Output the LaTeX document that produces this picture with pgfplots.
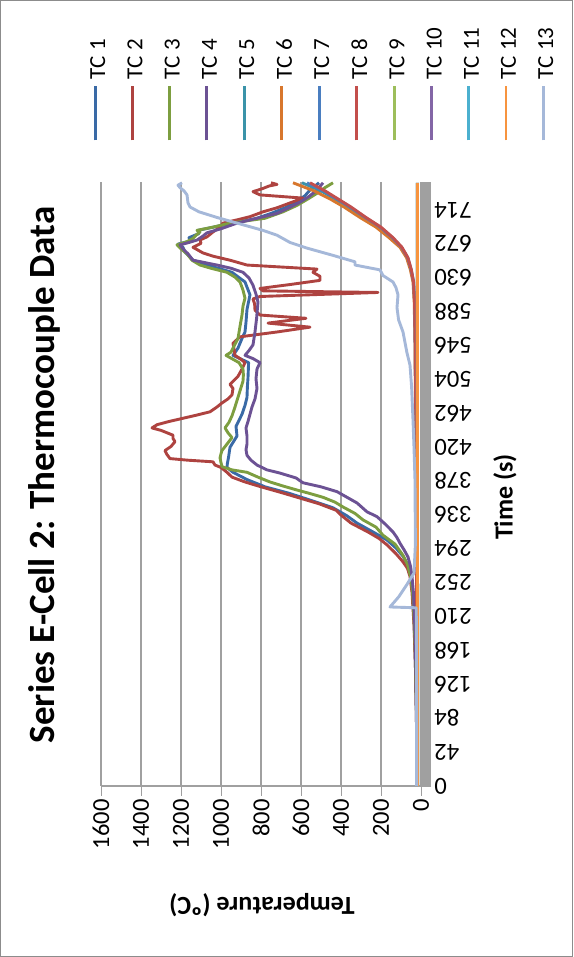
\documentclass[border=0pt]{standalone}
\usepackage{pgfplots}
\pgfplotsset{compat=1.18}
\usepackage{fontspec}
\setmainfont{Carlito}

\definecolor{tcA}{HTML}{3A6AA6}
\definecolor{tcB}{HTML}{AE4340}
\definecolor{tcC}{HTML}{7D9E40}
\definecolor{tcD}{HTML}{6C5294}
\definecolor{tcE}{HTML}{3B93A9}
\definecolor{tcF}{HTML}{D8772D}
\definecolor{tcG}{HTML}{4A7EC0}
\definecolor{tcH}{HTML}{C34F4C}
\definecolor{tcI}{HTML}{9DBE5B}
\definecolor{tcJ}{HTML}{8366A6}
\definecolor{tcK}{HTML}{4BB0CF}
\definecolor{tcL}{HTML}{F7943F}
\definecolor{tcM}{HTML}{A5B8D9}
\definecolor{gridc}{HTML}{A0A0A0}
\definecolor{framec}{HTML}{8C8C8C}

\begin{document}
\begin{tikzpicture}[rotate=90, transform shape]
\path[use as bounding box] (0pt,0pt) rectangle (957pt,573pt);
\draw[framec, line width=0.8pt] (0.5pt,0.5pt) rectangle (956.5pt,572.5pt);
\begin{axis}[
  at={(171pt,152pt)}, anchor=south west,
  scale only axis, width=604pt, height=320pt,
  xmin=0, xmax=749, ymin=0, ymax=1600,
  axis x line*=bottom, axis y line*=left,
  axis line style={gridc, line width=1.2pt, -},
  xtick={0,42,...,714}, minor xtick={0,1,...,749},
  ytick={0,200,...,1600},
  tick align=outside,
  major tick length=10pt, minor tick length=10pt,
  every tick/.style={gridc, line width=0.5pt},
  ymajorgrids,
  major grid style={gridc, line width=1.5pt},
  /pgf/number format/assume math mode=true,
  /pgf/number format/1000 sep={},
  xticklabel style={rotate=90, anchor=east, font=\fontsize{24.5}{24.5}\selectfont},
  yticklabel style={anchor=east, font=\fontsize{24.5}{24.5}\selectfont},
  xlabel={Time (s)},
  xlabel style={at={(axis description cs:0.4785,-0.2625)}, anchor=center,
    font=\bfseries\fontsize{26}{26}\selectfont},
  ylabel={Temperature (ºC)},
  ylabel style={at={(axis description cs:-0.1970,0.497)}, anchor=center,
    inner sep=0pt, font=\bfseries\fontsize{26}{26}\selectfont},
  title={Series E-Cell 2: Thermocouple Data},
  title style={at={(axis description cs:0.515,1.159)}, anchor=center,
    font=\bfseries\fontsize{37}{37}\selectfont},
  legend style={at={(axis description cs:1.0662,1.0344)}, anchor=north west,
    draw=none, fill=none, font=\fontsize{23}{23}\selectfont,
    inner sep=0pt, row sep=20.8pt, column sep=6pt,
    nodes={inner sep=0pt}},
  legend cell align=left,
  legend image code/.code={\draw[#1, line width=2.8pt] (0pt,0.32em) -- (54pt,0.32em);},
  every axis plot/.append style={line width=2.9pt, line join=round},
]
% TC 1
\addplot[tcA] coordinates {(0,20)(50,21)(100,24)(150,28)(200,34)(240,42)(260,52)(275,68)(285,90)(295,125)(305,170)(315,240)(326,320)(335,370)(345,440)(355,560)(363,660)(371,780)(380,870)(389,940)(395,970)(400,968)(408,962)(420,955)(434,920)(446,925)(461,895)(472,880)(482,870)(495,868)(506,865)(525,862)(534,940)(543,915)(555,895)(563,880)(575,875)(591,870)(609,855)(625,880)(637,945)(646,1070)(652,1140)(662,1180)(668,1190)(672,1215)(676,1150)(680,1160)(685,1110)(689,1115)(695,1000)(700,900)(704,820)(710,750)(717,680)(724,625)(732,580)(739,555)(748,510)};
% TC 2
\addplot[tcB] coordinates {(0,20)(50,21)(100,24)(150,28)(200,35)(240,45)(260,55)(270,68)(278,90)(288,125)(299,170)(307,210)(315,265)(326,350)(336,400)(342,425)(350,510)(357,605)(364,700)(371,800)(377,880)(383,945)(389,970)(395,1000)(398,1030)(402,1040)(404,1165)(406,1255)(411,1270)(416,1280)(421,1250)(427,1230)(431,1240)(435,1240)(441,1300)(444,1345)(448,1320)(452,1260)(456,1190)(460,1120)(464,1055)(470,1020)(475,995)(480,965)(485,945)(493,940)(498,955)(503,935)(508,915)(517,895)(525,880)(530,905)(534,930)(542,935)(549,940)(557,905)(563,720)(569,555)(574,765)(580,575)(584,805)(590,830)(598,832)(604,840)(607,805)(612,215)(614,790)(617,805)(622,650)(627,505)(632,505)(637,540)(641,520)(646,870)(652,955)(657,1040)(661,1090)(668,1140)(673,1100)(677,1105)(681,1070)(687,1040)(692,1010)(698,990)(702,920)(706,855)(712,790)(717,720)(723,655)(729,590)(733,805)(737,840)(741,790)(744,760)(746,720)(748,750)};
% TC 3
\addplot[tcC] coordinates {(0,20)(50,21)(100,23)(150,27)(200,33)(240,42)(260,52)(275,68)(286,90)(300,130)(311,190)(321,225)(330,290)(338,330)(346,390)(352,430)(358,490)(363,560)(367,620)(372,690)(377,755)(383,815)(389,870)(392,945)(396,995)(401,1000)(407,1005)(412,1000)(416,995)(424,970)(432,945)(438,965)(444,980)(451,960)(459,945)(470,930)(482,915)(490,905)(502,890)(510,888)(517,890)(525,910)(534,975)(538,950)(543,940)(555,915)(570,905)(584,895)(595,890)(605,880)(615,890)(625,905)(631,930)(637,970)(642,1050)(646,1105)(652,1145)(660,1170)(666,1200)(671,1220)(675,1170)(679,1140)(683,1125)(687,1105)(689,1120)(693,1040)(698,955)(704,780)(712,690)(720,620)(728,565)(735,520)(742,480)(748,440)};
% TC 4
\addplot[tcD] coordinates {(0,20)(50,21)(100,23)(150,26)(200,31)(240,38)(260,45)(272,52)(284,65)(293,85)(301,105)(308,120)(315,140)(325,180)(334,220)(340,270)(351,320)(358,370)(365,420)(371,500)(376,590)(382,625)(388,705)(392,770)(398,820)(404,850)(410,870)(417,875)(424,870)(434,870)(444,875)(452,865)(461,855)(470,845)(480,830)(493,820)(505,825)(517,820)(525,805)(530,840)(534,880)(540,860)(547,840)(555,835)(563,830)(580,822)(600,815)(610,825)(621,840)(630,860)(637,890)(642,950)(646,1020)(652,1140)(660,1165)(666,1190)(671,1205)(674,1160)(677,1120)(682,1090)(686,1070)(691,1000)(698,920)(704,820)(710,720)(717,660)(724,605)(731,560)(739,520)(748,490)};
% TC 5
\addplot[tcE] coordinates {(0,18)(150,20)(300,23)(450,26)(550,29)(600,32)(625,38)(640,50)(655,68)(668,100)(680,150)(693,210)(705,285)(718,365)(728,430)(738,500)(748,595)};
% TC 6
\addplot[tcF] coordinates {(0,18)(150,20)(300,23)(450,27)(550,30)(600,34)(625,40)(640,53)(655,72)(668,105)(680,160)(693,225)(705,305)(718,385)(728,455)(738,535)(748,640)};
% TC 7
\addplot[tcG] coordinates {(0,18)(150,20)(300,23)(450,26)(550,29)(600,32)(625,37)(640,49)(655,66)(668,97)(680,143)(693,204)(705,278)(718,355)(728,420)(738,488)(748,570)};
% TC 8
\addplot[tcH] coordinates {(0,18)(150,20)(300,23)(450,26)(550,29)(600,32)(625,37)(640,48)(655,65)(668,95)(680,140)(693,200)(705,275)(718,350)(728,415)(738,480)(748,555)};
% TC 9
\addplot[tcI] coordinates {(0,17)(200,17)(400,18)(600,18)(748,18)};
% TC 10
\addplot[tcJ] coordinates {(0,17)(200,17)(400,18)(600,18)(748,18)};
% TC 11
\addplot[tcK] coordinates {(0,17)(200,17)(400,18)(600,18)(748,18)};
% TC 12
\addplot[tcL] coordinates {(0,17)(200,17)(400,17)(600,17)(748,17)};
% TC 13
\addplot[tcM] coordinates {(0,22)(100,22)(200,23)(221,24)(222,155)(235,110)(250,70)(264,35)(300,28)(379,30)(420,35)(454,40)(495,47)(522,55)(537,70)(550,80)(563,90)(578,112)(593,120)(609,115)(618,125)(625,140)(633,190)(640,205)(646,330)(650,330)(658,440)(667,570)(674,655)(683,720)(689,790)(698,920)(705,1020)(712,1110)(718,1155)(723,1165)(733,1170)(738,1185)(742,1205)(745,1215)(748,1195)};
\legend{TC 1,TC 2,TC 3,TC 4,TC 5,TC 6,TC 7,TC 8,TC 9,TC 10,TC 11,TC 12,TC 13}
\end{axis}
\end{tikzpicture}
\end{document}
